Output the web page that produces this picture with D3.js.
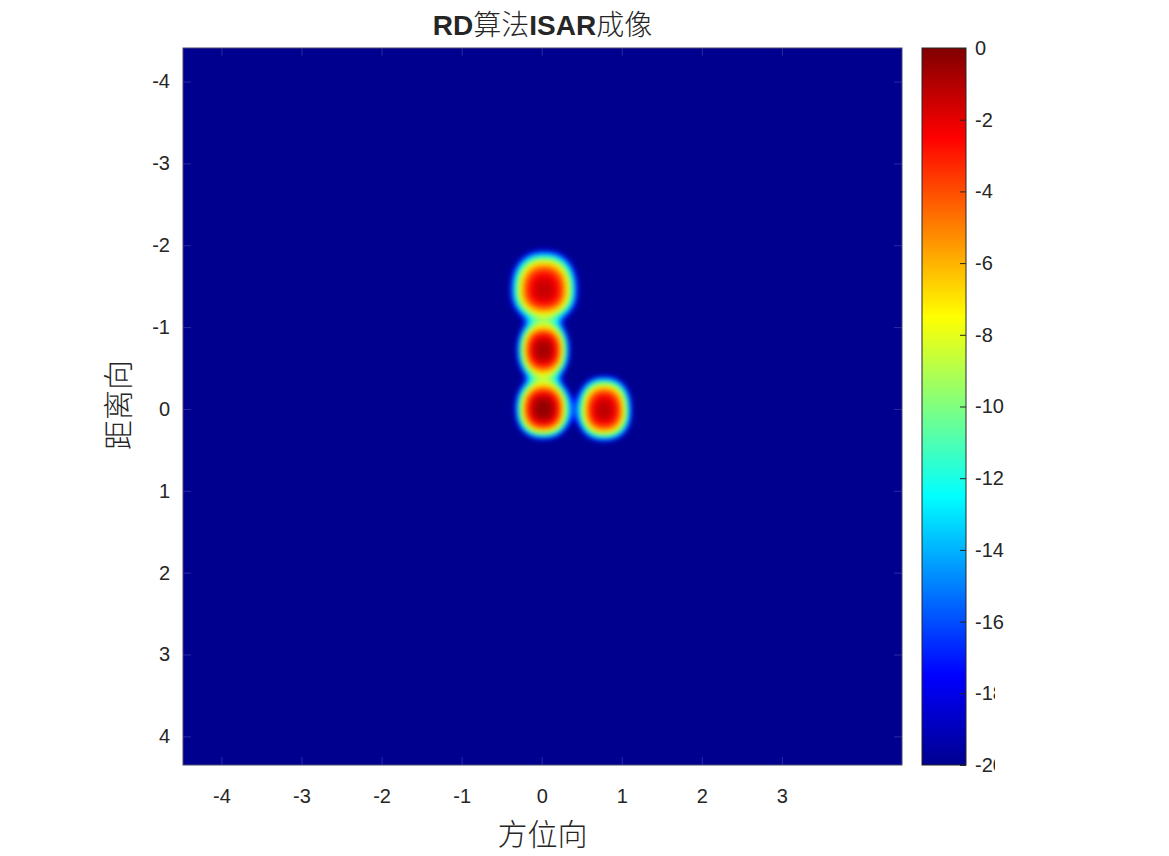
<!DOCTYPE html>
<html>
<head>
<meta charset="utf-8">
<script src="https://cdn.jsdelivr.net/npm/d3@7"></script>
<style>
  body { margin: 0; background: #fff; }
  text { font-family: "Liberation Sans", Arial, "Noto Sans CJK SC", sans-serif; fill: #262626; }
  .cjk { font-family: "Noto Sans CJK SC", sans-serif; font-weight: 300; }
</style>
</head>
<body>
<script>
var width = 1169, height = 856;

// point scatterers (azimuth, range)
var scatterX = [0.03, 0.02, 0.02, 0.78];
var scatterY = [-1.45, -0.72, 0.0, 0.02];
var peakDb = [-1.4, -0.7, -0.3, -1.2];
// -20 dB extents of each response, data units
var spreadX = [0.45, 0.35, 0.37, 0.37];
var spreadUp = [0.52, 0.40, 0.41, 0.45];
var spreadDown = [0.42, 0.40, 0.39, 0.40];

var xTicks = [-4, -3, -2, -1, 0, 1, 2, 3];
var yTicks = [-4, -3, -2, -1, 0, 1, 2, 3, 4];
var cTicks = [0, -2, -4, -6, -8, -10, -12, -14, -16, -18, -20];

var plot = { left: 183, right: 902, top: 48, bottom: 765 };
var cbar = { left: 922, right: 966 };

var svg = d3.select("body").append("svg")
    .attr("width", width)
    .attr("height", height);

var x = d3.scaleLinear().domain([-4.48, 4.5]).range([plot.left, plot.right]);
var y = d3.scaleLinear().domain([-4.41, 4.35]).range([plot.top, plot.bottom]);
var c = d3.scaleLinear().domain([-20, 0]).range([plot.bottom, plot.top]);

// jet colormap
var jet = d3.scaleLinear()
    .domain([-20, -17.5, -12.5, -7.5, -2.5, 0])
    .range(["#00008f", "#0000ff", "#00ffff", "#ffff00", "#ff0000", "#800000"])
    .clamp(true);

var fmt = function (d) { return String(d); };

// point response of each scatterer, summed in amplitude
function levelAt(px, py) {
    var sum = 0;
    for (var i = 0; i < scatterX.length; i++) {
        var u = Math.abs(px - scatterX[i]) / spreadX[i];
        var dy = py - scatterY[i];
        var v = Math.abs(dy) / (dy < 0 ? spreadUp[i] : spreadDown[i]);
        var r = Math.pow(Math.pow(u, 2.3) + Math.pow(v, 2.3), 1 / 2.3);
        sum += Math.pow(10, (peakDb[i] - 20 * Math.pow(r, 2.8)) / 20);
    }
    return 20 * Math.log10(sum);
}

// render the image into a canvas, then into the svg
var pw = plot.right - plot.left, ph = plot.bottom - plot.top;
var canvas = document.createElement("canvas");
canvas.width = pw;
canvas.height = ph;
var ctx = canvas.getContext("2d");
var img = ctx.createImageData(pw, ph);
for (var j = 0; j < ph; j++) {
    var yv = y.invert(plot.top + j + 0.5);
    for (var i = 0; i < pw; i++) {
        var col = d3.rgb(jet(levelAt(x.invert(plot.left + i + 0.5), yv)));
        var k = (j * pw + i) * 4;
        img.data[k] = col.r;
        img.data[k + 1] = col.g;
        img.data[k + 2] = col.b;
        img.data[k + 3] = 255;
    }
}
ctx.putImageData(img, 0, 0);

// soften a little, like the photographed screen
var soft = document.createElement("canvas");
soft.width = pw;
soft.height = ph;
var sctx = soft.getContext("2d");
sctx.fillStyle = jet(-20);
sctx.fillRect(0, 0, pw, ph);
sctx.filter = "blur(2.5px)";
sctx.drawImage(canvas, 0, 0);

svg.append("image")
    .attr("x", plot.left)
    .attr("y", plot.top)
    .attr("width", pw)
    .attr("height", ph)
    .attr("preserveAspectRatio", "none")
    .attr("href", soft.toDataURL());

// axes
function styleAxis(g, tickColor) {
    g.select(".domain").remove();
    g.selectAll(".tick line").attr("stroke", tickColor).attr("stroke-width", 1);
    g.selectAll(".tick text").attr("font-size", 20).attr("fill", "#333");
}

var innerTick = "rgba(120,120,200,0.35)";

svg.append("g")
    .attr("transform", "translate(0," + plot.bottom + ")")
    .call(d3.axisBottom(x).tickValues(xTicks).tickSize(-8).tickPadding(24).tickFormat(fmt))
    .call(styleAxis, innerTick);

svg.append("g")
    .attr("transform", "translate(" + plot.left + ",0)")
    .call(d3.axisLeft(y).tickValues(yTicks).tickSize(-8).tickPadding(13).tickFormat(fmt))
    .call(styleAxis, innerTick);

svg.append("g")
    .attr("transform", "translate(0," + plot.top + ")")
    .call(d3.axisTop(x).tickValues(xTicks).tickSize(-8).tickFormat(""))
    .call(styleAxis, innerTick);

svg.append("g")
    .attr("transform", "translate(" + plot.right + ",0)")
    .call(d3.axisRight(y).tickValues(yTicks).tickSize(-8).tickFormat(""))
    .call(styleAxis, innerTick);

svg.append("rect")
    .attr("x", plot.left).attr("y", plot.top)
    .attr("width", pw).attr("height", ph)
    .attr("fill", "none").attr("stroke", "#4a4a70").attr("stroke-width", 1);

// colorbar
var defs = svg.append("defs");
var grad = defs.append("linearGradient")
    .attr("id", "jetgrad")
    .attr("x1", 0).attr("y1", 1).attr("x2", 0).attr("y2", 0);
grad.selectAll("stop")
    .data(d3.range(-20, 0.01, 0.5))
    .enter().append("stop")
    .attr("offset", function (d) { return (d + 20) / 20; })
    .attr("stop-color", function (d) { return jet(d); });

// the photo cuts the last two colorbar labels
var clip = defs.append("clipPath").attr("id", "cut");
clip.append("rect").attr("x", 0).attr("y", 0).attr("width", width).attr("height", 655);
clip.append("rect").attr("x", 0).attr("y", 655).attr("width", 995).attr("height", height - 655);

svg.append("rect")
    .attr("x", cbar.left).attr("y", plot.top)
    .attr("width", cbar.right - cbar.left).attr("height", ph)
    .attr("fill", "url(#jetgrad)")
    .attr("stroke", "#262626").attr("stroke-width", 1);

svg.append("g")
    .attr("clip-path", "url(#cut)")
  .append("g")
    .attr("transform", "translate(" + cbar.right + ",0)")
    .call(d3.axisRight(c).tickValues(cTicks).tickSize(-6).tickPadding(9).tickFormat(fmt))
    .call(styleAxis, "#262626");

// labels
var title = svg.append("text")
    .attr("x", (plot.left + plot.right) / 2)
    .attr("y", 35)
    .attr("text-anchor", "middle")
    .attr("font-size", 28);
title.append("tspan").attr("font-weight", "bold").text("RD");
title.append("tspan").attr("class", "cjk").attr("font-weight", 400).text("算法");
title.append("tspan").attr("font-weight", "bold").text("ISAR");
title.append("tspan").attr("class", "cjk").attr("font-weight", 400).text("成像");

svg.append("text")
    .attr("class", "cjk")
    .attr("x", (plot.left + plot.right) / 2)
    .attr("y", 845)
    .attr("text-anchor", "middle")
    .attr("font-size", 30)
    .text("方位向");

svg.append("text")
    .attr("class", "cjk")
    .attr("transform", "translate(129,405) rotate(-90)")
    .attr("text-anchor", "middle")
    .attr("font-size", 30)
    .text("距离向");
</script>
</body>
</html>
